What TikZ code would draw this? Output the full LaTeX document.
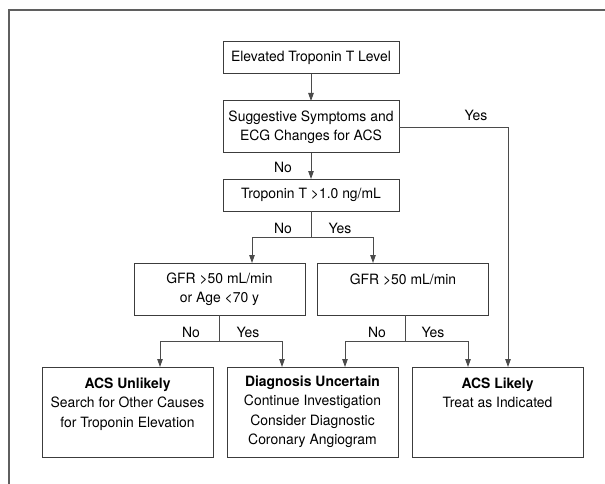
\documentclass[tikz,border=0pt]{standalone}
\usepackage{fontspec}
\setmainfont[FakeStretch=0.98]{TeX Gyre Heros}
\usetikzlibrary{arrows.meta}
\definecolor{boxline}{RGB}{60,60,60}
\definecolor{conline}{RGB}{75,75,75}
\definecolor{framecol}{RGB}{95,95,95}
\tikzset{
  box/.style={draw=boxline, line width=1pt, inner sep=0pt, outer sep=0pt,
    align=center, font=\fontsize{14.2}{19.5}\selectfont},
  con/.style={draw=conline, line width=0.9pt},
  arr/.style={con, -{Triangle[length=8pt,width=5.5pt]}},
  lab/.style={inner sep=0pt, font=\fontsize{14.2}{16}\selectfont}
}
\begin{document}
\begin{tikzpicture}[x=1pt,y=-1pt]
\useasboundingbox (0,0) rectangle (605,484);
\fill[white] (0,0) rectangle (605,484);
% frame
\draw[framecol, line width=2.2pt] (9,484) -- (9,10) -- (606,10);

% boxes
\node[box, minimum width=176, minimum height=32] (b1) at (311,58) {Elevated Troponin T Level};
\node[box, minimum width=176, minimum height=52] (b2) at (311,127) {Suggestive Symptoms and\\ECG Changes for ACS};
\node[box, minimum width=176, minimum height=32] (b3) at (311,195) {Troponin T >1.0 ng/mL};
\node[box, minimum width=171, minimum height=52] (b4) at (219.5,289) {GFR >50 mL/min\\or Age <70 y};
\node[box, minimum width=171, minimum height=52] (b5) at (403,289) {GFR >50 mL/min\\\mbox{}};
\node[box, minimum width=171, minimum height=90] (b6) at (127.5,412) {\textbf{ACS Unlikely}\\Search for Other Causes\\for Troponin Elevation\\\mbox{}};
\node[box, minimum width=171, minimum height=90] (b7) at (312.5,412) {\textbf{Diagnosis Uncertain}\\Continue Investigation\\Consider Diagnostic\\Coronary Angiogram};
\node[box, minimum width=171, minimum height=90] (b8) at (497.5,412) {\textbf{ACS Likely}\\Treat as Indicated\\\mbox{}\\\mbox{}};

% coordinates
\coordinate (yr) at (508,127);
\coordinate (s3) at (311,237);
\coordinate (l3) at (252,237);
\coordinate (r3) at (373,237);
\coordinate (s4) at (219.5,341);
\coordinate (l4) at (160,341);
\coordinate (r4) at (282,341);
\coordinate (s5) at (405,341);
\coordinate (l5) at (345,341);
\coordinate (r5) at (468,341);

% connectors
\draw[arr] (b1) -- (b2);
\draw[arr] (b2) -- (b3);
\draw[arr] (b2.east) -- (yr) -- (yr |- b8.north);

\draw[con] (b3) -- (s3);
\draw[con] (l3) -- (r3);
\draw[arr] (l3) -- (l3 |- b4.north);
\draw[arr] (r3) -- (r3 |- b5.north);

\draw[con] (b4) -- (s4);
\draw[con] (l4) -- (r4);
\draw[arr] (l4) -- (l4 |- b6.north);
\draw[arr] (r4) -- (r4 |- b7.north);

\draw[con] (s5 |- b5.south) -- (s5);
\draw[con] (l5) -- (r5);
\draw[arr] (l5) -- (l5 |- b7.north);
\draw[arr] (r5) -- (r5 |- b8.north);

% labels
\node[lab] (t1) at (283,167) {No};
\node[lab] (t2) at (476,115) {Yes};
\node[lab] (t3) at (283,228) {No};
\node[lab] (t4) at (340,228) {Yes};
\node[lab] (t5) at (191,332) {No};
\node[lab] (t6) at (248,332) {Yes};
\node[lab] (t7) at (377,332) {No};
\node[lab] (t8) at (433,332) {Yes};
\end{tikzpicture}
\end{document}
